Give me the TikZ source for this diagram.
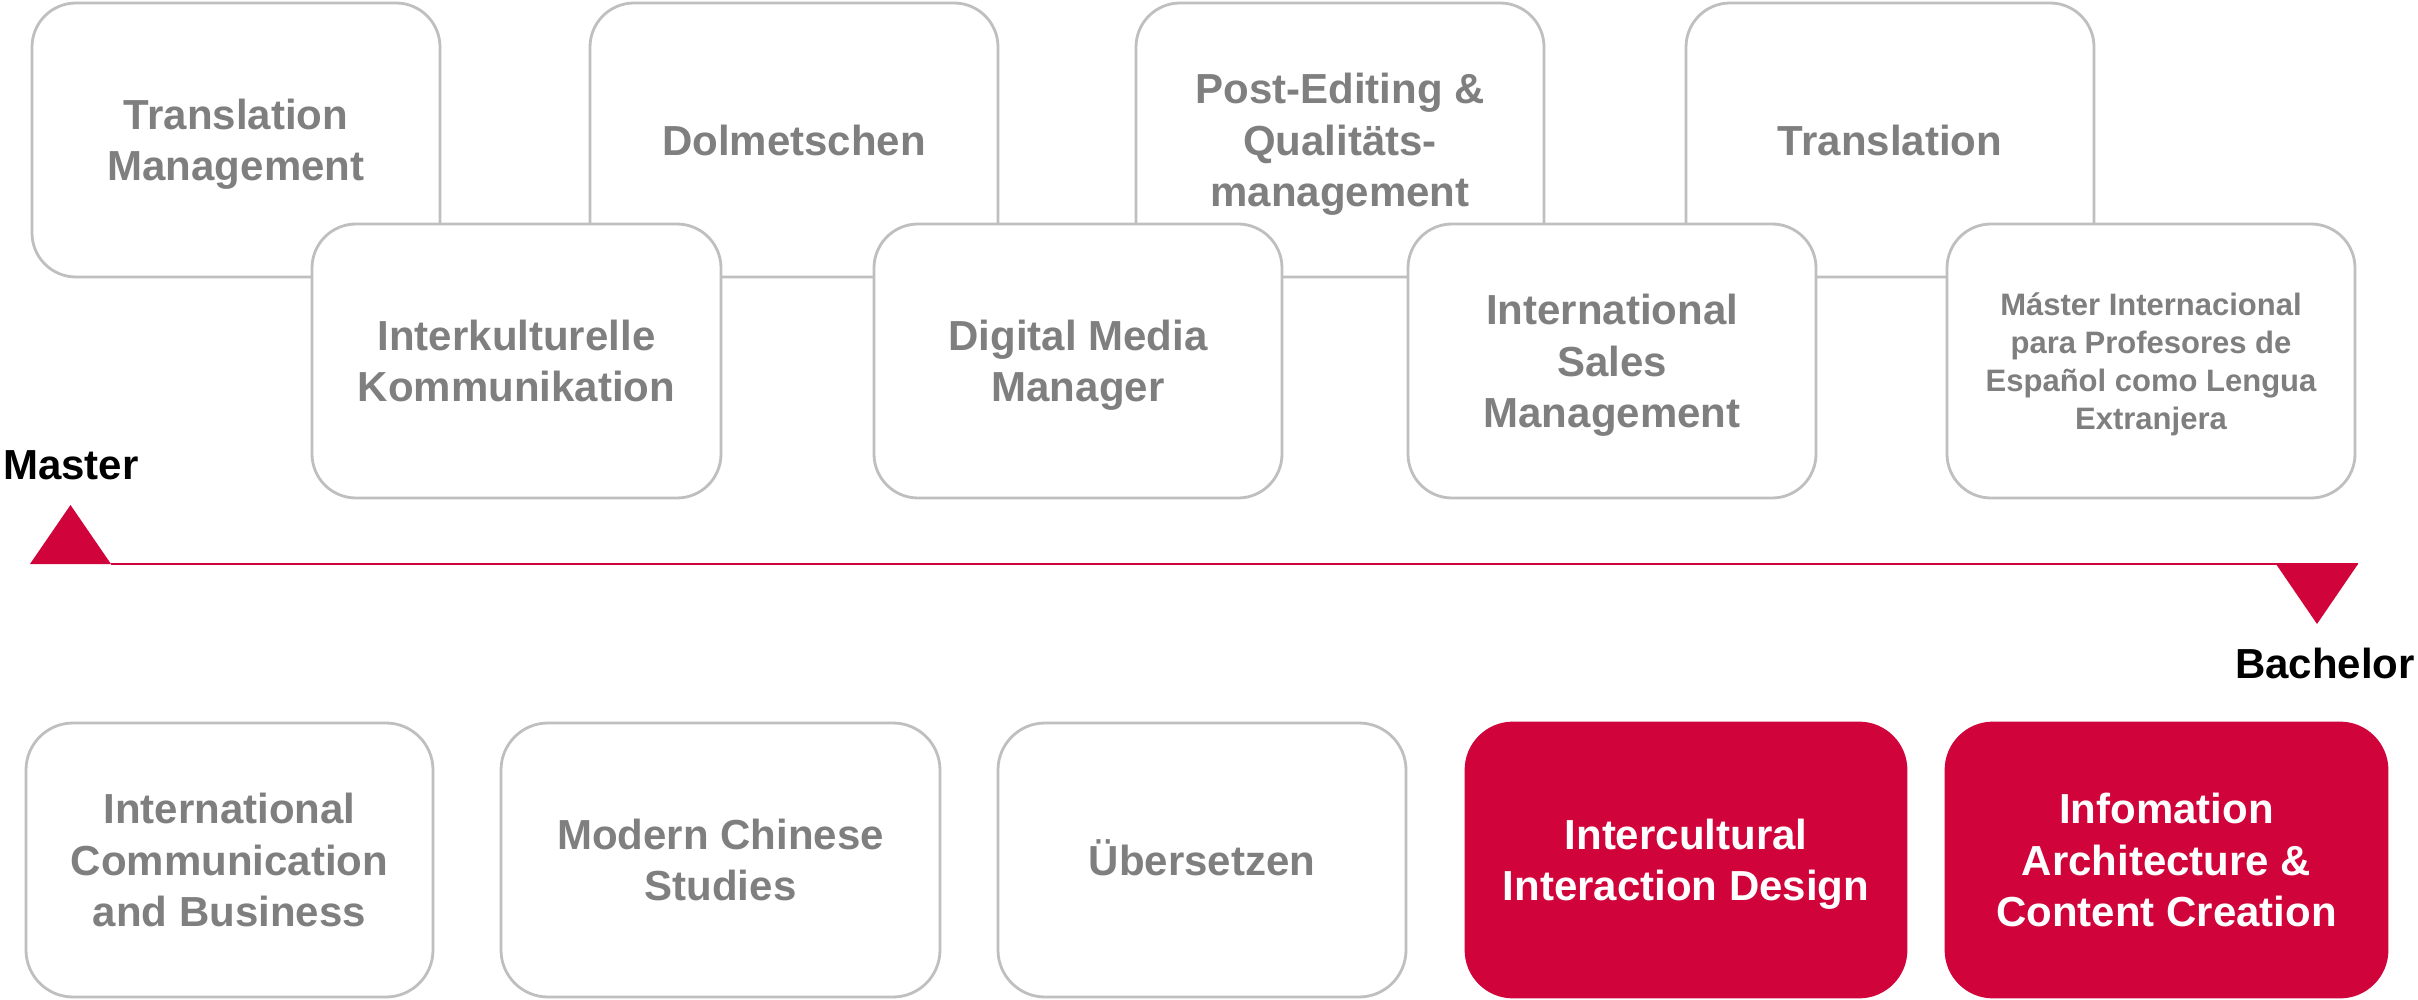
\documentclass[tikz,border=0pt]{standalone}
\usepackage{fontspec}
\setmainfont{Liberation Sans}
\definecolor{crim}{RGB}{208,3,59}
\definecolor{txtgray}{RGB}{127,127,127}
\definecolor{boxgray}{RGB}{191,191,191}
\newcommand{\mlines}[1]{\begin{tabular}[b]{@{}c@{}}#1\end{tabular}}
\tikzset{
  prog/.style={draw=boxgray, line width=2.8pt, fill=white, rounded corners=44pt,
    minimum height=274pt, inner sep=0pt, text=txtgray, text depth=0pt,
    font=\fontsize{42}{51.5}\selectfont\bfseries},
  redprog/.style={prog, draw=crim, fill=crim, text=white, rounded corners=47pt},
  lowprog/.style={prog, rounded corners=47pt},
  smalltext/.style={font=\fontsize{31}{38}\selectfont\bfseries},
  oneline/.style={text height=30.1pt},
  twolines/.style={text height=81.6pt},
  threelines/.style={text height=133.1pt},
  fourlines/.style={text height=136.2pt},
  levellabel/.style={inner sep=0pt, font=\fontsize{42}{51.5}\selectfont\bfseries, text=black},
  axisline/.style={draw=crim, line width=2pt},
  axistip/.style={fill=crim, draw=none}
}
\begin{document}
\begin{tikzpicture}[x=1pt, y=-1pt]
\useasboundingbox (0,0) rectangle (2418,1000);
% upper master row (back)
\node[prog, minimum width=408pt, twolines] (tm) at (236,140) {\mlines{Translation\\Management}};
\node[prog, minimum width=408pt, oneline] (dol) at (794,140) {\mlines{Dolmetschen}};
\node[prog, minimum width=408pt, threelines] (pe) at (1340,140) {\mlines{Post-Editing \&\\Qualitäts-\\management}};
\node[prog, minimum width=408pt, oneline] (tr) at (1890,140) {\mlines{Translation}};
% lower master row (front)
\node[prog, minimum width=409pt, twolines] (ik) at (516.5,361) {\mlines{Interkulturelle\\Kommunikation}};
\node[prog, minimum width=408pt, twolines] (dm) at (1078,361) {\mlines{Digital Media\\Manager}};
\node[prog, minimum width=408pt, threelines] (is) at (1612,361) {\mlines{International\\Sales\\Management}};
\node[prog, smalltext, minimum width=408pt, fourlines] (mi) at (2151,361) {\mlines{Máster Internacional\\para Profesores de\\Español como Lengua\\Extranjera}};
% axis
\coordinate (mA) at (30,564);
\coordinate (mB) at (111,564);
\coordinate (mC) at (70.5,505);
\coordinate (bA) at (2276,564);
\coordinate (bB) at (2358,564);
\coordinate (bC) at (2317,624);
\fill[axistip] (mA) -- (mB) -- (mC) -- cycle;
\fill[axistip] (bA) -- (bB) -- (bC) -- cycle;
\draw[axisline] (mB) -- (bB);
\node[levellabel, anchor=base west] (master) at (3,479) {Master};
\node[levellabel, anchor=base east] (bachelor) at (2415,678) {Bachelor};
% bachelor row
\node[lowprog, minimum width=407pt, threelines] (icb) at (229.5,860) {\mlines{International\\Communication\\and Business}};
\node[lowprog, minimum width=439pt, twolines] (mcs) at (720.5,860) {\mlines{Modern Chinese\\Studies}};
\node[lowprog, minimum width=408pt, oneline] (ub) at (1202,860) {\mlines{Übersetzen}};
\node[redprog, minimum width=440pt, twolines] (iid) at (1686,860) {\mlines{Intercultural\\Interaction Design}};
\node[redprog, minimum width=441pt, threelines] (iacc) at (2166.5,860) {\mlines{Infomation\\Architecture \&\\Content Creation}};
\end{tikzpicture}
\end{document}
